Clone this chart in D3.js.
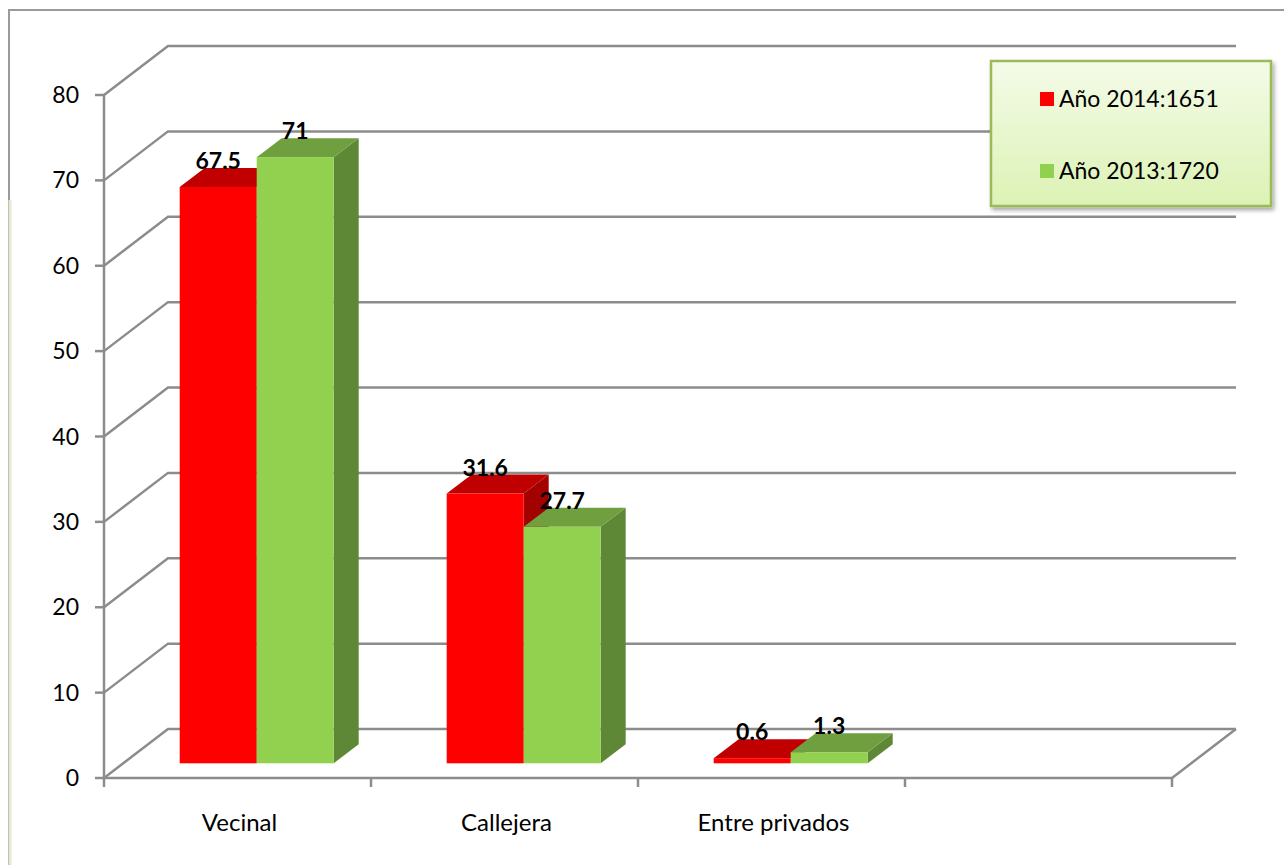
<!DOCTYPE html>
<html>
<head>
<meta charset="utf-8">
<script src="https://cdn.jsdelivr.net/npm/d3@7"></script>
<style>
  body { margin: 0; background: #fff; }
  svg { display: block; font-family: Lato, "Open Sans", sans-serif; }
</style>
</head>
<body>
<script>
// Chart data
const categories = ["Vecinal", "Callejera", "Entre privados", ""];
const seriesNames = ["Año 2014:1651", "Año 2013:1720"];
const values2014 = [67.5, 31.6, 0.6];
const values2013 = [71, 27.7, 1.3];
const yTicks = [0, 10, 20, 30, 40, 50, 60, 70, 80];

// Colours for front / top / side of each series
const colors = [
  { front: "#ff0000", top: "#c00000", side: "#a30000" },
  { front: "#92d050", top: "#6f9f3f", side: "#5f8836" }
];

const W = 1284, H = 865;
const svg = d3.select("body").append("svg").attr("width", W).attr("height", H);

// Depth of the 3D floor
const depthX = 64, depthY = 49;
const left = 104, right = 1172;

const y = d3.scaleLinear().domain([0, 80]).range([778, 95]);
const x = d3.scaleBand().domain(d3.range(categories.length)).range([left, right]);
const groupW = 154;
const x1 = d3.scaleBand().domain([0, 1]).range([0, groupW]);

// Outer chart border
svg.append("rect")
  .attr("x", 9).attr("y", 10).attr("width", W).attr("height", H)
  .attr("fill", "none").attr("stroke", "#9a9a9a").attr("stroke-width", 2);
svg.append("line")
  .attr("x1", 10).attr("x2", 10).attr("y1", 200).attr("y2", H)
  .attr("stroke", "#e3ecd2").attr("stroke-width", 3);

const grid = svg.append("g").attr("stroke", "#8c8c8c").attr("stroke-width", 2.5).attr("fill", "none");

// Back wall gridlines and side wall diagonals
yTicks.forEach(t => {
  const yy = y(t);
  grid.append("path")
    .attr("d", `M${left},${yy} L${left + depthX},${yy - depthY} L${right + depthX},${yy - depthY}`);
});

// Floor front edge and right depth edge
grid.append("path").attr("d", `M${left},${y(0)} L${right},${y(0)} L${right + depthX},${y(0) - depthY}`);
// Vertical axis
grid.append("line").attr("x1", left).attr("x2", left).attr("y1", y(80)).attr("y2", y(0));

// Y axis ticks and labels
const yAxis = svg.append("g");
yTicks.forEach(t => {
  yAxis.append("line")
    .attr("x1", left - 9).attr("x2", left).attr("y1", y(t)).attr("y2", y(t))
    .attr("stroke", "#8c8c8c").attr("stroke-width", 2.5);
  yAxis.append("text")
    .attr("x", 79).attr("y", y(t)).attr("dy", "0.35em")
    .attr("text-anchor", "end").attr("font-size", 23).attr("fill", "#000")
    .text(t);
});

// X axis ticks
d3.range(categories.length + 1).forEach(i => {
  const xx = left + i * x.step();
  svg.append("line")
    .attr("x1", xx).attr("x2", xx).attr("y1", y(0)).attr("y2", y(0) + 9)
    .attr("stroke", "#8c8c8c").attr("stroke-width", 2.5);
});

// X category labels
categories.forEach((c, i) => {
  svg.append("text")
    .attr("x", x(i) + x.bandwidth() / 2 + 2).attr("y", 831)
    .attr("text-anchor", "middle").attr("font-size", 24).attr("fill", "#000")
    .text(c);
});

// Bars
const frontDX = 0.3 * depthX, frontDY = 0.3 * depthY;
const barDX = 25, barDY = 19;
const series = [values2014, values2013];

const barData = [];
values2014.forEach((v, i) => {
  series.forEach((s, k) => barData.push({ cat: i, k, v: s[i] }));
});

const bars = svg.append("g");
barData.forEach(d => {
  const x0 = x(d.cat) + (x.step() - groupW) / 2 + frontDX + x1(d.k);
  const w = x1.bandwidth();
  const yb = y(0) - frontDY;
  const yt = y(d.v) - frontDY;
  const c = colors[d.k];
  const g = bars.append("g");
  // side face
  g.append("path")
    .attr("d", `M${x0 + w},${yt} L${x0 + w + barDX},${yt - barDY} L${x0 + w + barDX},${yb - barDY} L${x0 + w},${yb} Z`)
    .attr("fill", c.side);
  // top face
  g.append("path")
    .attr("d", `M${x0},${yt} L${x0 + barDX},${yt - barDY} L${x0 + w + barDX},${yt - barDY} L${x0 + w},${yt} Z`)
    .attr("fill", c.top);
  // front face
  g.append("rect")
    .attr("x", x0).attr("y", yt).attr("width", w).attr("height", yb - yt)
    .attr("fill", c.front);
  d.lx = x0 + w / 2;
  d.ly = yt - barDY;
});

// Value labels
barData.forEach(d => {
  svg.append("text")
    .attr("x", d.lx).attr("y", d.ly + 1)
    .attr("text-anchor", "middle").attr("font-size", 23).attr("font-weight", "bold")
    .attr("fill", "#000")
    .text(d.v);
});

// Legend
const defs = svg.append("defs");
const grad = defs.append("linearGradient").attr("id", "lg").attr("x1", 0).attr("x2", 0).attr("y1", 0).attr("y2", 1);
grad.append("stop").attr("offset", "0%").attr("stop-color", "#f4fbe8");
grad.append("stop").attr("offset", "100%").attr("stop-color", "#dcf2b4");
const shadow = defs.append("filter").attr("id", "sh").attr("x", "-10%").attr("y", "-10%").attr("width", "130%").attr("height", "140%");
shadow.append("feDropShadow").attr("dx", 2).attr("dy", 3).attr("stdDeviation", 2).attr("flood-color", "#000").attr("flood-opacity", 0.35);

const legend = svg.append("g").attr("transform", "translate(991,61)");
legend.append("rect")
  .attr("width", 280).attr("height", 145)
  .attr("fill", "url(#lg)").attr("stroke", "#9bbb59").attr("stroke-width", 2.5)
  .attr("filter", "url(#sh)");
seriesNames.forEach((n, k) => {
  const ly = 38 + k * 72;
  legend.append("rect")
    .attr("x", 49).attr("y", ly - 7).attr("width", 14).attr("height", 14)
    .attr("fill", colors[k].front);
  legend.append("text")
    .attr("x", 68).attr("y", ly).attr("dy", "0.35em")
    .attr("font-size", 23).attr("fill", "#000")
    .text(n);
});
</script>
</body>
</html>
